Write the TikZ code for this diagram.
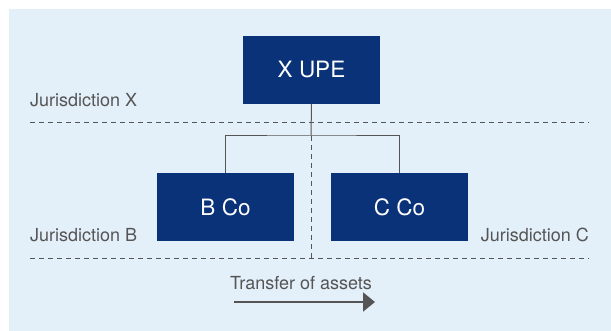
\documentclass[tikz,border=0pt]{standalone}
\usepackage{fontspec}
\setmainfont{TeX Gyre Heros}
\usetikzlibrary{arrows.meta}
\definecolor{bgblue}{HTML}{E4F0F9}
\definecolor{navy}{HTML}{0A3278}
\definecolor{linegrey}{HTML}{555555}
\definecolor{txtgrey}{HTML}{555555}
\tikzset{
  entity/.style={fill=navy, draw=none, minimum width=137pt, minimum height=68pt,
    text=white, font=\fontsize{22.5}{26}\selectfont, inner sep=0pt},
  jlabel/.style={text=txtgrey, font=\fontsize{18}{21}\selectfont, inner sep=0pt},
  border/.style={draw=linegrey, line width=0.8pt, dash pattern=on 5pt off 4pt},
  link/.style={draw=linegrey, line width=1pt},
}
\begin{document}
\begin{tikzpicture}[x=1pt,y=-1pt]
\useasboundingbox (0,0) rectangle (611,331);
\fill[bgblue] (9,9) rectangle (611,331);
% boxes
\node[entity] (x) at (311.5,70) {X UPE};
\node[entity] (b) at (225.5,207) {B Co};
\node[entity] (c) at (399.5,207) {C Co};
% labels
\node[jlabel, anchor=west] (jx) at (30,100) {Jurisdiction X};
\node[jlabel, anchor=west] (jb) at (30,235) {Jurisdiction B};
\node[jlabel, anchor=east] (jc) at (589,235) {Jurisdiction C};
\node[jlabel] (tr) at (301,283) {Transfer of assets};
% dashed jurisdiction borders
\coordinate (l1a) at (30,122);
\coordinate (l1b) at (589,122);
\coordinate (l2a) at (30,258);
\coordinate (l2b) at (589,258);
\coordinate (br) at (311,136);
\coordinate (vbot) at (311,258);
\path[border] (l1a) -- (l1b);
\path[border] (l2a) -- (l2b);
\path[border] (br) -- (vbot);
% ownership links
\path[link] (x.south) -- (br);
\path[link] (b.north) |- (br) -| (c.north);
% arrow
\coordinate (aa) at (234,302);
\coordinate (ab) at (375,302);
\draw[linegrey, line width=2pt, -{Triangle[length=12pt,width=19pt]}] (aa) -- (ab);
\end{tikzpicture}
\end{document}
